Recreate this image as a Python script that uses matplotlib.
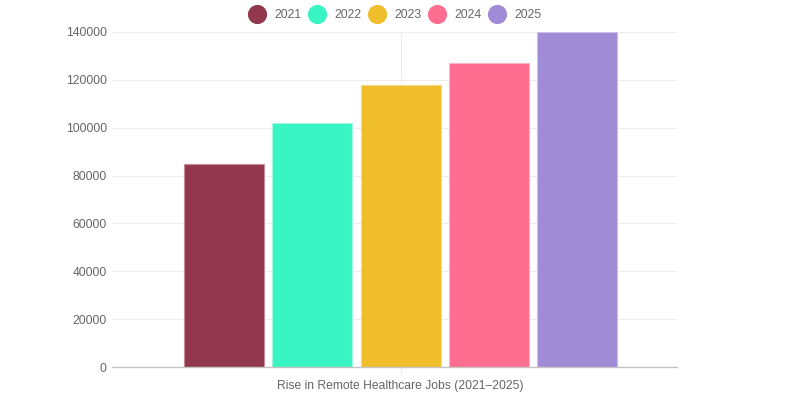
import matplotlib
matplotlib.use('Agg')
import matplotlib.pyplot as plt
from matplotlib.lines import Line2D

plt.rcParams['font.family'] = ['Liberation Sans', 'DejaVu Sans']

# data
category = 'Rise in Remote Healthcare Jobs (2021–2025)'
years = ['2021', '2022', '2023', '2024', '2025']
jobs = [85000, 102000, 118000, 127000, 140000]
colors = ['#91384e', '#38f5c3', '#f0be2b', '#ff6e90', '#a08cd6']
edges = ['#c98a9a', '#9ff9e0', '#f6da8a', '#ffb0c3', '#cbbfe9']

fig = plt.figure(figsize=(8, 4), dpi=100)
ax = fig.add_axes([112.3 / 800, 33 / 400, 565 / 800, 335 / 400])

# grid
ax.set_axisbelow(True)
ax.yaxis.grid(True, color='#ededed', linewidth=0.8)
ax.axvline(0, color='#ededed', linewidth=0.8, zorder=0)

slot = 0.1564
for i, (yr, v) in enumerate(zip(years, jobs)):
    pos = (i - 2) * slot
    ax.bar(pos, v, width=0.1416, color=colors[i], edgecolor=edges[i],
           linewidth=0.8, zorder=2, label=yr)

ax.set_xlim(-0.5104, 0.4896)
ax.set_ylim(0, 140000)
ax.set_yticks(range(0, 140001, 20000))
ax.set_yticklabels([str(t) for t in range(0, 140001, 20000)])
ax.set_xticks([0])
ax.set_xticklabels([category])

for s in ['top', 'right', 'left']:
    ax.spines[s].set_visible(False)
ax.spines['bottom'].set_color('#c4c4c4')
ax.spines['bottom'].set_linewidth(1)

ax.tick_params(axis='y', length=0, pad=4, labelsize=8.7, labelcolor='#666666')
ax.tick_params(axis='x', length=6, color='#ededed', width=0.8, pad=3,
               labelsize=8.7, labelcolor='#666666')

handles = [Line2D([0], [0], marker='o', linestyle='none', markersize=12.8,
                  markerfacecolor=c, markeredgecolor=c) for c in colors]
fig.legend(handles, years, loc='center', bbox_to_anchor=(0.4935, 0.9617),
           ncol=5, frameon=False, fontsize=8.7, labelcolor='#666666',
           handletextpad=0.69, columnspacing=0.53, handlelength=1.5,
           borderpad=0, borderaxespad=0)

fig.savefig('out.png', dpi=100)
